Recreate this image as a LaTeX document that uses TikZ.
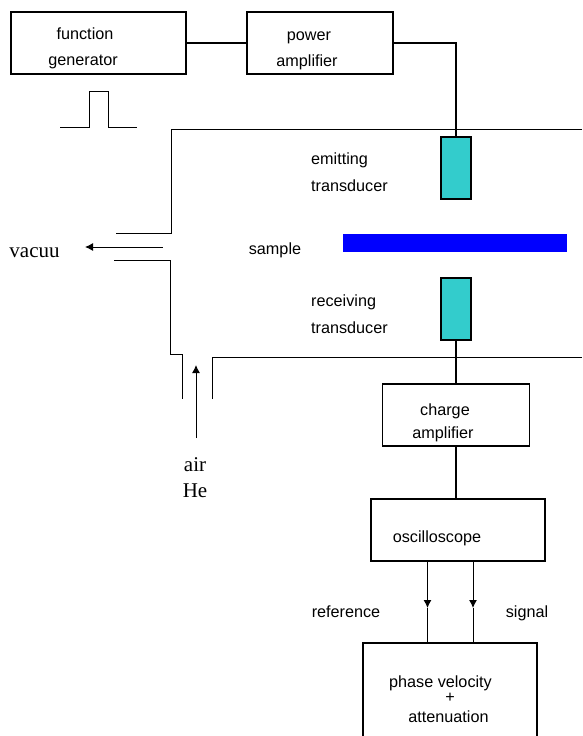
\documentclass[tikz,border=0pt]{standalone}
\usepackage{fontspec}
\setmainfont{Liberation Sans}
\newfontfamily\gasfont{Liberation Serif}
\usetikzlibrary{arrows.meta,positioning}

\definecolor{probeteal}{RGB}{51,204,204}

\tikzset{
  box/.style={draw, line width=1.2pt, inner sep=0pt, outer sep=0pt, minimum height=62pt},
  transducer/.style={draw, line width=1.2pt, fill=probeteal, inner sep=0pt, outer sep=0pt, minimum width=30pt, minimum height=62pt},
  lbl/.style={inner sep=0pt, anchor=base, font=\fontsize{16.2}{19}\selectfont},
  lbll/.style={lbl, anchor=base west},
  gaslbl/.style={inner sep=0pt, anchor=base, font=\fontsize{21}{25}\selectfont\gasfont},
  wall/.style={line width=1pt},
  wire/.style={line width=2pt},
  thin wire/.style={line width=1pt},
  tip/.style={-{Latex[length=8pt,width=8pt]}}
}

\begin{document}
\begin{tikzpicture}[x=1pt, y=-1pt]

  \path[use as bounding box, clip] (0,0) rectangle (582,736);

  \node[box, minimum width=175pt] (fgen) at (98.5,43) {};
  \node[box, minimum width=146pt] (pamp) [right=61pt of fgen] {};
  \node[lbl] (fgen1) at (85,39) {function};
  \node[lbl] (fgen2) at (83,65) {generator};
  \node[lbl] (pamp1) at (309,40) {power};
  \node[lbl] (pamp2) at (307,66) {amplifier};
  \draw[wire] (fgen) -- (pamp);

  \coordinate (p0) at (60,127);
  \coordinate (p1) at (89,127);
  \coordinate (p2) at (89,91);
  \coordinate (p3) at (108.5,91);
  \coordinate (p4) at (108.5,127);
  \coordinate (p5) at (137,127);
  \draw[thin wire] (p0) -- (p1) -- (p2) -- (p3) -- (p4) -- (p5);

  \coordinate (top0) at (582,129);
  \coordinate (top1) at (171,129);
  \coordinate (top2) at (171,233);
  \coordinate (top3) at (116,233);
  \draw[wall] (top0) -- (top1) -- (top2) -- (top3);

  \coordinate (low0) at (114,260);
  \coordinate (low1) at (170.5,260);
  \coordinate (low2) at (170.5,354);
  \coordinate (low3) at (182.5,354);
  \coordinate (low4) at (182.5,399);
  \draw[wall] (low0) -- (low1) -- (low2) -- (low3) -- (low4);

  \coordinate (bot0) at (212,399);
  \coordinate (bot1) at (212,357);
  \coordinate (bot2) at (582,357);
  \draw[wall] (bot0) -- (bot1) -- (bot2);

  \node[transducer] (emit) at (456,168) {};
  \node[transducer] (recv) [below=79pt of emit] {};
  \node[fill=blue, inner sep=0pt, minimum width=224.5pt, minimum height=18pt] (sample) at (454.8,243) {};
  \draw[line width=1.5pt] (pamp.east) -| (emit.north);

  \node[lbll] (emit1) at (311,164) {emitting};
  \node[lbll] (emit2) at (311,191) {transducer};
  \node[lbl] (samplelbl) at (275,254) {sample};
  \node[lbll] (recv1) at (311,306) {receiving};
  \node[lbll] (recv2) at (311,333) {transducer};

  \coordinate (vac0) at (162.5,247);
  \coordinate (vac1) at (85,247);
  \draw[thin wire, tip] (vac0) -- (vac1);
  \node[gaslbl] (vac) at (34.5,257) {vacuu};

  \coordinate (air0) at (196,438);
  \coordinate (air1) at (196,365);
  \draw[thin wire, tip] (air0) -- (air1);
  \node[gaslbl] (air) at (195,471) {air};
  \node[gaslbl] (he) at (195,497) {He};

  \node[box, minimum width=147pt] (camp) [below=44pt of recv] {};
  \node[box, minimum width=174pt] (osc) [below=53pt of camp, xshift=2pt] {};
  \node[box, minimum width=174pt, minimum height=102pt] (res) [below=82pt of osc, xshift=-8pt] {};
  \node[lbl] (camp1) at (445,415) {charge};
  \node[lbl] (camp2) at (443,438) {amplifier};
  \node[lbl] (osc1) at (437,542) {oscilloscope};
  \node[lbl] (res1) at (440.5,687) {phase velocity};
  \node[lbl] (res2) at (450,702) {+};
  \node[lbl] (res3) at (448.5,722) {attenuation};

  \draw[wire] (recv.south) -- (camp.north -| recv.south);
  \draw[wire] (camp.south) -- (camp.south |- osc.north);

  \coordinate (refup) at (427.5,562);
  \coordinate (refmid) at (427.5,608);
  \coordinate (refdn) at (427.5,644);
  \coordinate (sigup) at (473,562);
  \coordinate (sigmid) at (473,608);
  \coordinate (sigdn) at (473,644);
  \draw[thin wire, tip] (refup) -- (refmid);
  \draw[thin wire] (refmid) -- (refdn);
  \draw[thin wire, tip] (sigup) -- (sigmid);
  \draw[thin wire] (sigmid) -- (sigdn);
  \node[lbl] (reflbl) at (346,617) {reference};
  \node[lbl] (siglbl) at (527,617) {signal};

\end{tikzpicture}
\end{document}
